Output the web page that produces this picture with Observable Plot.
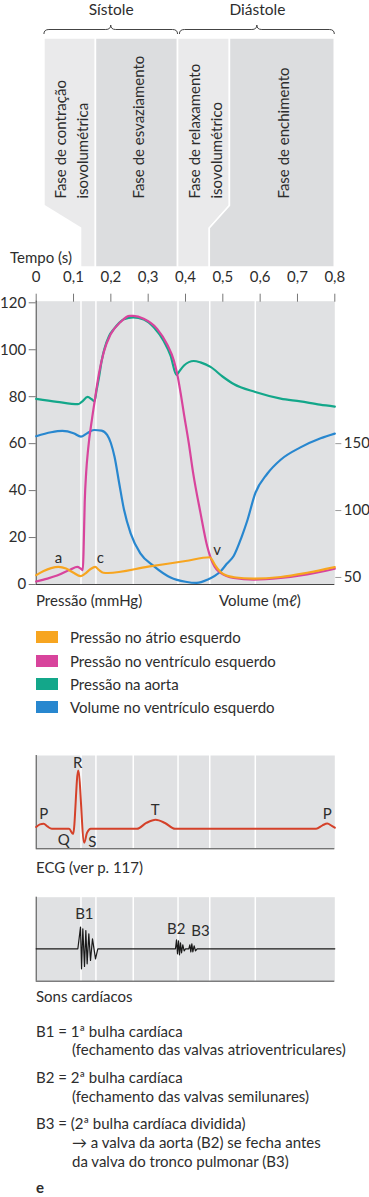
<!DOCTYPE html>
<html><head><meta charset="utf-8">
<script src="https://cdn.jsdelivr.net/npm/d3@7"></script>
<script src="https://cdn.jsdelivr.net/npm/@observablehq/plot@0.6"></script>
<style>
body{margin:0;background:#fff;font-family:Lato,"Noto Sans",sans-serif;color:#2d2d2d;}
#root{position:relative;width:369px;height:1197px;overflow:hidden;background:#fff;}
#root svg{position:absolute;left:0;overflow:visible;}
.t{position:absolute;font-size:15px;white-space:nowrap;height:18px;line-height:18px;}
.sw{position:absolute;width:22px;height:12px;}
</style></head><body><div id="root"></div>
<script>
// ---------- DATA ----------
const timeTicks = [0, 0.1, 0.2, 0.3, 0.4, 0.5, 0.6, 0.7, 0.8];
const pressureTicks = [0, 20, 40, 60, 80, 100, 120];
const volumeTicks = [50, 100, 150];
const gridTimes = [0.12, 0.16, 0.26, 0.38, 0.465, 0.587];

const periodNames = ["Sístole", "Diástole"];
const periodStart = [0.022, 0.385];
const periodEnd = [0.38, 0.8];

const phaseLabels = ["Fase de contração\nisovolumétrica", "Fase de esvaziamento", "Fase de relaxamento\nisovolumétrico", "Fase de enchimento"];
const phaseTopStart = [0.022, 0.16, 0.38, 0.519];
const phaseTopEnd   = [0.16, 0.38, 0.519, 0.8];
const phaseBotStart = [0.12, 0.16, 0.38, 0.465];
const phaseBotEnd   = [0.16, 0.38, 0.465, 0.8];

// Pressão na aorta (mmHg): [tempo (s), pressão]
const aortaPressure = [[0,79.1],[0.056,77.8],[0.112,76.8],[0.122,77.8],[0.138,79.9],[0.148,79.0],[0.156,78.1],[0.162,83],[0.168,88],[0.175,95],[0.183,100.5],[0.195,105.8],[0.208,108.8],[0.235,113.0],[0.26,113.8],[0.288,112.9],[0.315,109.6],[0.342,103.6],[0.36,97.5],[0.376,89.2],[0.382,90.5],[0.396,93.3],[0.422,95.2],[0.44,94.6],[0.467,92.7],[0.5,88.5],[0.529,85.4],[0.587,82.0],[0.655,79.2],[0.708,78.0],[0.76,76.6],[0.8,75.8]];
// Pressão no ventrículo esquerdo (mmHg)
const ventriclePressure = [[0,1.3],[0.03,2.5],[0.056,3.8],[0.092,6.4],[0.11,7.5],[0.119,6.8],[0.125,6.1],[0.127,15],[0.13,35],[0.134,48],[0.139,57.5],[0.15,71.1],[0.157,78.5],[0.168,89.7],[0.181,99],[0.199,106.5],[0.226,111.8],[0.25,114.4],[0.26,114.4],[0.288,113.2],[0.324,108.9],[0.351,102.2],[0.369,95.3],[0.378,89.5],[0.387,81.5],[0.396,72.5],[0.409,60],[0.42,48],[0.44,30.6],[0.458,16.4],[0.466,12.0],[0.472,9.5],[0.483,6.5],[0.494,5.0],[0.529,2.8],[0.583,2.1],[0.655,2.8],[0.726,4.3],[0.8,6.7]];
// Pressão no átrio esquerdo (mmHg)
const atriumPressure = [[0,4.0],[0.02,5.8],[0.04,7.0],[0.06,7.5],[0.08,6.8],[0.1,5.0],[0.119,3.6],[0.13,4.5],[0.145,6.5],[0.158,7.5],[0.168,6.2],[0.18,5.0],[0.192,4.9],[0.3,7.6],[0.4,10.0],[0.465,11.6],[0.47,10.8],[0.48,8.0],[0.494,5.3],[0.51,3.8],[0.529,3.1],[0.583,2.5],[0.655,3.2],[0.726,5.0],[0.8,7.4]];
// Volume no ventrículo esquerdo (ml)
const ventricleVolume = [[0,155.5],[0.04,158.5],[0.07,159.5],[0.1,157.8],[0.12,155.2],[0.135,157.5],[0.155,160.2],[0.175,159.8],[0.19,156.5],[0.2,150.5],[0.21,140],[0.222,121],[0.235,101],[0.253,83],[0.279,68],[0.315,58.5],[0.36,50],[0.4,46.8],[0.43,45.9],[0.458,48.2],[0.494,54.6],[0.51,60],[0.529,66],[0.55,80],[0.565,92],[0.587,113],[0.619,127.5],[0.655,138],[0.708,147.2],[0.762,154],[0.8,157.5]];

const waveLabels = ["a", "c", "v"];
const waveT = [0.06, 0.172, 0.485];
const waveP = [11.4, 11.1, 14.5];

// ECG (unidades relativas, R = 1)
const ecgT = [0,0.01,0.02,0.03,0.042,0.088,0.099,0.1125,0.1286,0.136,0.146,0.27,0.295,0.32,0.345,0.372,0.75,0.767,0.78,0.792,0.8];
const ecgV = [0.03,0.075,0.086,0.04,0,0,-0.09,1.0,-0.24,-0.07,0,0,0.1,0.155,0.1,0,0,0.06,0.09,0.05,0.02];
const ecgLabels = ["P","Q","R","S","T","P"];
const ecgLabelT = [0.02, 0.074, 0.111, 0.15, 0.319, 0.78];
const ecgLabelV = [0.257, -0.2, 1.12, -0.23, 0.326, 0.257];

// Sons cardíacos (amplitude relativa)
const soundT = [0,0.1116,0.1187,0.1214,0.1249,0.1294,0.1330,0.1365,0.1410,0.1455,0.1508,0.1589,0.1651,0.3732,0.3759,0.3786,0.3812,0.3839,0.3866,0.3893,0.3928,0.3964,0.4,0.4089,0.4116,0.4143,0.4170,0.4196,0.4232,0.4268,0.4312,0.8];
const soundA = [0,0,21.7,-20,20,-17.7,18.3,-15,15,-11.7,10,-10,0,0,9,-5,8,-6,6,-4,4,-2,0,0,4,-3,5,-3,3,-2,0,0];
const soundLabels = ["B1","B2","B3"];
const soundLabelT = [0.129, 0.375, 0.44];
const soundLabelA = [35, 20, 17.6];

const legendLabels = ["Pressão no átrio esquerdo","Pressão no ventrículo esquerdo","Pressão na aorta","Volume no ventrículo esquerdo"];
const legendColors = ["#f7a520","#d8449c","#13a78a","#2887cf"];

// ---------- STYLE ----------
const FONT = "Lato, 'Noto Sans', sans-serif";
const TXT = "#2d2d2d";
const BG = "#e0e1e3";
const FS = 15;
const xRange = [35.7, 334.3];
const [cAtr, cVen, cAor, cVol] = legendColors;
const volToP = d3.scaleLinear().domain([50, 150]).range([3.0, 60.0]);
const fmtTime = d => d === 0 ? "0" : d.toFixed(1).replace(".", ",");
const root = document.getElementById("root");

function place(svg, top) { svg.style.top = top + "px"; root.appendChild(svg); }
function label(text, left, cy, extra) {
  const d = document.createElement("div");
  d.className = "t"; d.textContent = text;
  d.style.left = left + "px"; d.style.top = (cy - 9) + "px";
  if (extra) Object.assign(d.style, extra);
  root.appendChild(d);
}

// ---------- PHASES ----------
const TOP = 38, KNEE_A = 205.5, KNEE_B = 228, BOT = 267;
const phasePlot = Plot.plot({
  width: 369, height: 270, margin: 0,
  x: {domain: [0, 0.8], range: xRange, axis: null},
  y: {domain: [0, 270], range: [0, 270], axis: null},
  style: {fontFamily: FONT, fontSize: FS + "px", color: TXT, background: "transparent"},
  marks: [
    (index, scales) => {
      const g = d3.create("svg:g");
      phaseLabels.forEach((_, i) => {
        const pts = [[phaseTopStart[i], TOP],[phaseTopEnd[i], TOP],[phaseTopEnd[i], KNEE_A],[phaseBotEnd[i], KNEE_B],[phaseBotEnd[i], BOT],[phaseBotStart[i], BOT],[phaseBotStart[i], KNEE_B],[phaseTopStart[i], KNEE_A]];
        g.append("path")
          .attr("d", "M" + pts.map(([t, y]) => scales.x(t) + "," + scales.y(y)).join("L") + "Z")
          .attr("fill", i % 2 === 0 ? "#eaeaeb" : "#dcdddf")
          .attr("stroke", "white").attr("stroke-width", 1.6);
      });
      return g.node();
    },
    (index, scales) => {
      const g = d3.create("svg:g");
      periodNames.forEach((_, i) => {
        const a = scales.x(periodStart[i]), b = scales.x(periodEnd[i]), m = (a + b) / 2;
        const y = 29.5;
        const p = d3.path();
        p.moveTo(a, y + 4.5);
        p.quadraticCurveTo(a, y, a + 5, y);
        p.lineTo(m - 5, y);
        p.quadraticCurveTo(m, y, m, y - 4.5);
        p.quadraticCurveTo(m, y, m + 5, y);
        p.lineTo(b - 5, y);
        p.quadraticCurveTo(b, y, b, y + 4.5);
        g.append("path").attr("d", p.toString()).attr("fill", "none").attr("stroke", "#444").attr("stroke-width", 1);
      });
      return g.node();
    },
    Plot.text(periodNames, {x: (d, i) => (periodStart[i] + periodEnd[i]) / 2, y: () => 10, lineAnchor: "middle", fontSize: 15.5, fill: TXT}),
    Plot.text(phaseLabels, {x: (d, i) => (phaseTopStart[i] + phaseTopEnd[i]) / 2, y: () => 198, rotate: -90, textAnchor: "start", lineAnchor: "middle", lineHeight: 1.47, fontSize: FS, fill: TXT})
  ]
});
place(phasePlot, 0);
label("Tempo (s)", 10, 257);

// ---------- MAIN CHART ----------
const line = (data, color, yf) => Plot.line(data, {x: d => d[0], y: yf || (d => d[1]), stroke: color, strokeWidth: 2.2, curve: "monotone-x"});
const mainPlot = Plot.plot({
  width: 369, height: 340,
  marginTop: 50.7, marginBottom: 6, marginLeft: 35.7, marginRight: 34.7,
  x: {domain: [0, 0.8], range: xRange},
  y: {domain: [0, 120], range: [334, 52.3]},
  style: {fontFamily: FONT, fontSize: FS + "px", color: TXT, background: "transparent"},
  marks: [
    Plot.frame({fill: BG, stroke: null}),
    Plot.ruleX(gridTimes, {stroke: "white", strokeWidth: 1.5}),
    Plot.axisX(timeTicks, {anchor: "top", tickSize: 8, tickPadding: 11, tickFormat: fmtTime, label: null, stroke: "#777", fill: TXT}),
    Plot.axisY(pressureTicks, {anchor: "left", tickSize: 7, tickPadding: 3, label: null, stroke: "#777", fill: TXT}),
    Plot.axisY(volumeTicks.map(volToP), {anchor: "right", tickSize: 6, tickPadding: 3, tickFormat: p => Math.round(volToP.invert(p)), label: null, stroke: "#999", fill: TXT}),
    Plot.ruleX([0], {stroke: "#444"}),
    Plot.ruleY([0], {stroke: "#444"}),
    line(ventricleVolume, cVol, d => volToP(d[1])),
    line(aortaPressure, cAor),
    line(ventriclePressure, cVen),
    line(atriumPressure, cAtr),
    Plot.text(waveLabels, {x: (d, i) => waveT[i], y: (d, i) => waveP[i], fontSize: FS, fill: TXT})
  ]
});
place(mainPlot, 250);
label("Pressão (mmHg)", 36, 600);
label("Volume (mℓ)", 219, 600);

// ---------- LEGEND ----------
const legendY = [637.3, 660.7, 684, 707.3];
legendLabels.forEach((t, i) => {
  const s = document.createElement("div");
  s.className = "sw"; s.style.left = "36px"; s.style.top = (legendY[i] - 6) + "px"; s.style.background = legendColors[i];
  root.appendChild(s);
  label(t, 70, legendY[i]);
});

// ---------- ECG ----------
const ecgPlot = Plot.plot({
  width: 369, height: 105,
  marginTop: 10, marginBottom: 1.7, marginLeft: 35.7, marginRight: 34.7,
  x: {domain: [0, 0.8], range: xRange, axis: null},
  y: {domain: [-0.343, 1.257], range: [103.3, 10], axis: null},
  style: {fontFamily: FONT, fontSize: FS + "px", color: TXT, background: "transparent"},
  marks: [
    Plot.frame({fill: BG, stroke: null}),
    Plot.ruleX(gridTimes, {stroke: "white", strokeWidth: 1.5}),
    Plot.ruleX([0], {stroke: "#444"}),
    Plot.ruleY([-0.343], {stroke: "#444"}),
    Plot.line(ecgT, {x: d => d, y: (d, i) => ecgV[i], stroke: "#d4412a", strokeWidth: 2, curve: "monotone-x"}),
    Plot.text(ecgLabels, {x: (d, i) => ecgLabelT[i], y: (d, i) => ecgLabelV[i], fontSize: FS, fill: TXT})
  ]
});
place(ecgPlot, 745);
label("ECG (ver p. 117)", 36, 866.7);

// ---------- SONS ----------
const soundPlot = Plot.plot({
  width: 369, height: 93,
  marginTop: 6.7, marginBottom: 2.3, marginLeft: 35.7, marginRight: 34.7,
  x: {domain: [0, 0.8], range: xRange, axis: null},
  y: {domain: [-32.4, 51.6], range: [90.7, 6.7], axis: null},
  style: {fontFamily: FONT, fontSize: FS + "px", color: TXT, background: "transparent"},
  marks: [
    Plot.frame({fill: BG, stroke: null}),
    Plot.ruleX(gridTimes, {stroke: "white", strokeWidth: 1.5}),
    Plot.ruleX([0], {stroke: "#444"}),
    Plot.ruleY([-32.4], {stroke: "#444"}),
    Plot.line(soundT, {x: d => d, y: (d, i) => soundA[i], stroke: "#1a1a1a", strokeWidth: 1.2}),
    Plot.text(soundLabels, {x: (d, i) => soundLabelT[i], y: (d, i) => soundLabelA[i], fontSize: FS, fill: TXT})
  ]
});
place(soundPlot, 890);
label("Sons cardíacos", 36, 996);

// ---------- NOTES ----------
label("B1 = 1ª bulha cardíaca", 36, 1030.7);
label("(fechamento das valvas atrioventriculares)", 72, 1049.3);
label("B2 = 2ª bulha cardíaca", 36, 1076.7);
label("(fechamento das valvas semilunares)", 72, 1095.7);
label("B3 = (2ª bulha cardíaca dividida)", 36, 1123.3);
label("→ a valva da aorta (B2) se fecha antes", 72, 1141.7);
label("da valva do tronco pulmonar (B3)", 72, 1160.7);
label("e", 36, 1187, {fontWeight: "bold"});
</script></body></html>
